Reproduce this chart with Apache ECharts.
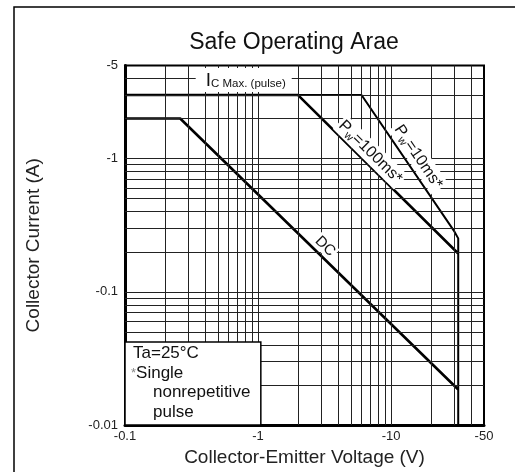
<!DOCTYPE html>
<html>
<head>
<meta charset="utf-8">
<script src="https://cdn.jsdelivr.net/npm/echarts@6/dist/echarts.min.js"></script>
<style>
html, body { margin: 0; padding: 0; background: #fff; }
#chart { width: 515px; height: 472px; }
</style>
</head>
<body>
<div id="chart"></div>
<script>
// axis ticks (shown as negative, PNP device)
var xTicks = [0.1, 1, 10, 50];
var yTicks = [0.01, 0.1, 1, 5];
// log grid lines
var xGrid = [0.2, 0.3, 0.4, 0.5, 0.6, 0.7, 0.8, 0.9, 1, 2, 3, 4, 5, 6, 7, 8, 9, 10, 20, 30, 40];
var yGrid = [0.02, 0.03, 0.04, 0.05, 0.06, 0.07, 0.08, 0.09, 0.1, 0.2, 0.3, 0.4, 0.5, 0.6, 0.7, 0.8, 0.9, 1, 2, 3, 4];
// SOA curves [Vce, Ic]
var dcCurve = [[0.1, 2], [0.26, 2], [32, 0.0185]];
var pw100Curve = [[0.1, 3], [2, 3], [32, 0.194]];
var pw10Curve = [[0.1, 3], [6, 3], [30, 0.283], [32, 0.252], [32, 0.01]];

var FONT = 'Liberation Sans, Arial, sans-serif';

function tickFmt(ticks) {
  return function (v) {
    for (var i = 0; i < ticks.length; i++) {
      if (Math.abs(Math.log10(ticks[i]) - Math.log10(v)) < 1e-6) return '-' + ticks[i];
    }
    return '';
  };
}

var chart = echarts.init(document.getElementById('chart'));

var gridMarks = xGrid.map(function (v) { return { xAxis: v }; })
  .concat(yGrid.map(function (v) { return { yAxis: v }; }));

var option = {
  animation: false,
  backgroundColor: '#fff',
  grid: {
    left: 125, right: 31, top: 65.5, bottom: 46,
    show: true, borderColor: '#000', borderWidth: 2
  },
  xAxis: {
    type: 'log', logBase: 10, min: 0.1, max: 50,
    name: 'Collector-Emitter Voltage (V)',
    nameLocation: 'middle', nameGap: 18,
    nameTextStyle: { fontSize: 19, color: '#222', fontFamily: FONT },
    axisLine: { show: true, lineStyle: { color: '#000', width: 3 } },
    axisTick: { show: false },
    splitLine: { show: false },
    axisLabel: { color: '#222', fontSize: 13, fontFamily: FONT, margin: 5,
      showMinLabel: true, showMaxLabel: true, formatter: tickFmt(xTicks) }
  },
  yAxis: {
    type: 'log', logBase: 10, min: 0.01, max: 5,
    name: 'Collector Current (A)',
    nameLocation: 'middle', nameGap: 82, nameRotate: 90,
    nameTextStyle: { fontSize: 19, color: '#222', fontFamily: FONT },
    axisLine: { show: true, lineStyle: { color: '#000', width: 3 } },
    axisTick: { show: false },
    splitLine: { show: false },
    axisLabel: { color: '#222', fontSize: 13, fontFamily: FONT, margin: 7,
      showMinLabel: true, showMaxLabel: true, formatter: tickFmt(yTicks) }
  },
  series: [
    {
      name: 'grid', type: 'line', z: 1, silent: true,
      data: [[0.1, 0.01]], showSymbol: false, lineStyle: { opacity: 0 },
      markLine: {
        silent: true, symbol: 'none', label: { show: false },
        lineStyle: { color: '#222', width: 1, type: 'solid' },
        data: gridMarks
      }
    },
    { name: 'DC', type: 'line', z: 3, data: dcCurve, showSymbol: false,
      lineStyle: { color: '#000', width: 2.6 } },
    { name: 'Pw=100ms', type: 'line', z: 3, data: pw100Curve, showSymbol: false,
      lineStyle: { color: '#000', width: 2.6 } },
    { name: 'Pw=10ms', type: 'line', z: 3, data: pw10Curve, showSymbol: false,
      lineStyle: { color: '#000', width: 2 } }
  ]
};
chart.setOption(option);

// annotations placed through the chart's own scales
function px(p) { return chart.convertToPixel({ gridIndex: 0 }, p); }
function angleOf(a, b) {
  var p1 = px(a), p2 = px(b);
  return -Math.atan2(p2[1] - p1[1], p2[0] - p1[0]);
}
function lineLabel(at, rot, text, size) {
  var p = px(at);
  return {
    type: 'text', x: p[0], y: p[1], rotation: rot, z: 100,
    style: {
      text: text, align: 'center', verticalAlign: 'middle',
      backgroundColor: '#fff', padding: [0, 2],
      fill: '#111', font: size + 'px ' + FONT,
      rich: {
        p: { fontSize: 16, lineHeight: 20, fontFamily: FONT, fill: '#111' },
        w: { fontSize: 11, lineHeight: 12, verticalAlign: 'bottom', fontFamily: FONT, fill: '#111' },
        t: { fontSize: 16, lineHeight: 20, fontFamily: FONT, fill: '#111' }
      }
    }
  };
}

var boxTL = px([0.1, 0.042]);
var boxBR = px([1.05, 0.01]);
var icPos = px([0.34, 3.9]);

chart.setOption({
  graphic: [
    { type: 'rect', z: 0, silent: true, shape: { x: 14, y: 7, width: 600, height: 600 },
      style: { fill: 'none', stroke: '#000', lineWidth: 1.5 } },
    { type: 'text', z: 100, x: 294, y: 43,
      style: { text: 'Safe Operating Arae', align: 'center', verticalAlign: 'middle',
        fill: '#111', font: '23px ' + FONT } },
    { type: 'text', z: 100, x: icPos[0], y: icPos[1],
      style: { text: '{i|I}{c|C Max. (pulse)}', align: 'left', verticalAlign: 'middle',
        backgroundColor: '#fff', padding: [2, 6, 2, 10],
        rich: {
          i: { fontSize: 19, lineHeight: 20, fontFamily: FONT, fill: '#111', verticalAlign: 'bottom' },
          c: { fontSize: 11.5, lineHeight: 14, fontFamily: FONT, fill: '#111', verticalAlign: 'bottom' }
        } } },
    lineLabel([7, 1.12], angleOf(pw100Curve[1], pw100Curve[2]), '{p|P}{w|w}{t|=100ms*}', 16),
    lineLabel([16, 1.03], angleOf(pw10Curve[1], pw10Curve[2]), '{p|P}{w|w}{t|=10ms*}', 16),
    lineLabel([3.2, 0.22], angleOf(dcCurve[1], dcCurve[2]), 'DC', 15),
    { type: 'rect', z: 100, silent: true,
      shape: { x: boxTL[0], y: boxTL[1], width: boxBR[0] - boxTL[0], height: boxBR[1] - boxTL[1] },
      style: { fill: '#fff', stroke: '#000', lineWidth: 1.5 } },
    { type: 'text', z: 101, x: boxTL[0] + 8, y: boxTL[1] + 11,
      style: { text: 'Ta=25°C', verticalAlign: 'middle', fill: '#111', font: '17px ' + FONT } },
    { type: 'text', z: 101, x: boxTL[0] + 6, y: boxTL[1] + 31,
      style: { text: '{a|*}{s|Single}', verticalAlign: 'middle',
        rich: {
          a: { fontSize: 13, fill: '#888', fontFamily: FONT },
          s: { fontSize: 17, fill: '#111', fontFamily: FONT }
        } } },
    { type: 'text', z: 101, x: boxTL[0] + 28, y: boxTL[1] + 50,
      style: { text: 'nonrepetitive', verticalAlign: 'middle', fill: '#111', font: '17px ' + FONT } },
    { type: 'text', z: 101, x: boxTL[0] + 28, y: boxTL[1] + 70,
      style: { text: 'pulse', verticalAlign: 'middle', fill: '#111', font: '17px ' + FONT } }
  ]
});
</script>
</body>
</html>
